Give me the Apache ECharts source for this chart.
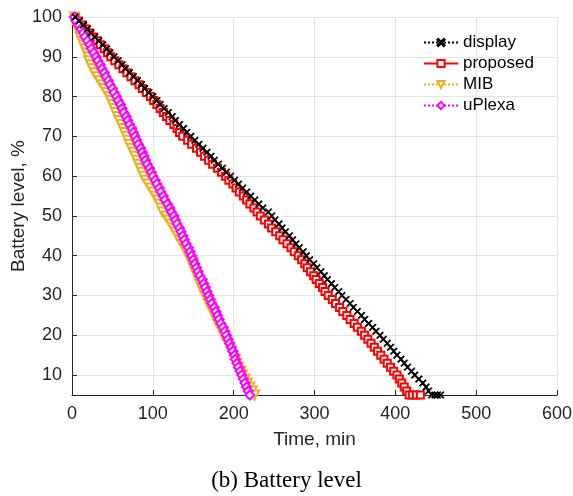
<!DOCTYPE html>
<html>
<head>
<meta charset="utf-8">
<script src="https://cdn.jsdelivr.net/npm/echarts@6/dist/echarts.min.js"></script>
<style>
html,body{margin:0;padding:0;background:#fff;}
#chart{width:573px;height:496px;}
</style>
</head>
<body>
<div id="chart"></div>
<script>
// Battery levels (%) shared by all series
var levels = [100,99,98,97,96,95,94,93,92,91,90,89,88,87,86,85,84,83,82,81,80,79,78,77,76,75,74,73,72,71,70,69,68,67,66,65,64,63,62,61,60,59,58,57,56,55,54,53,52,51,50,49,48,47,46,45,44,43,42,41,40,39,38,37,36,35,34,33,32,31,30,29,28,27,26,25,24,23,22,21,20,19,18,17,16,15,14,13,12,11,10,9,8,7,6,5];

// Time (min) at which each level is reached
var displayTime = [4,9,14,19,23,28,33,38,43,47,52, 57,62,66,71,76,81,86,90,95,100, 105,109,114,119,124,128,133,138,142,147, 152,157,162,167,172,176,181,186,191,196, 201,206,211,216,221,226,231,236,243,247, 251,256,260,264,269,273,277,281,286,290, 294,299,303,308,312,316,321,325,330,334, 339,344,348,353,358,362,367,372,376,381, 385,390,394,398,402,407,411,415,420,424, 429,434,438,441,445];
var displayTailTime = [449,452,456];
var displayTailLevel = [5,5,5];

var proposedTime = [4,8,13,17,22,26,31,35,40,44,48, 53,58,63,68,73,78,83,87,92,97, 101,105,109,113,117,121,126,130,133,137, 143,148,154,159,164,169,174,180,185,190, 194,199,203,207,212,216,220,225,229,233, 238,243,247,252,257,261,266,271,275,280, 284,288,291,295,299,302,306,310,313,317, 322,326,331,335,340,344,349,353,358,362, 366,370,374,378,382,386,390,394,398,402, 405,408,411,414,417];
var proposedTailTime = [421,426,431];
var proposedTailLevel = [5,5,5];

var mibTime = [3,4,6,7,9,10,12,14,16,18,20, 21,23,25,28,31,34,37,40,43,46, 48,50,52,54,56,58,61,63,65,67, 69,71,73,76,78,80,82,84,86,88, 91,94,97,100,103,106,108,110,112,116, 119,122,125,128,130,133,136,139,141,144, 146,148,150,152,154,156,158,160,162,164, 167,169,171,174,176,178,180,183,185,187, 190,192,195,197,199,202,204,206,209,211, 214,217,220,223,226];

var uplexaTime = [3,5,8,11,14,16,19,22,24,27,30, 32,35,37,40,42,45,47,50,52,55, 57,60,62,64,67,69,71,74,76,78, 80,82,85,87,89,91,93,96,98,100, 103,105,108,110,113,115,118,121,123,126, 128,130,133,135,137,139,141,144,146,148, 150,152,154,156,158,161,163,165,167,169, 171,173,176,178,180,182,184,187,189,191, 193,195,197,199,201,202,204,206,208,210, 212,214,216,218,220];

var seriesNames = ['display','proposed','MIB','uPlexa'];
var xTicks = [0,100,200,300,400,500,600];

function pairs(t, v, tt, tv) {
  var out = [];
  for (var i = 0; i < t.length; i++) out.push([t[i], v[i]]);
  if (tt) for (var j = 0; j < tt.length; j++) out.push([tt[j], tv[j]]);
  return out;
}

var crossPath = 'path://M1.2,0 L5,3.8 L8.8,0 L10,1.2 L6.2,5 L10,8.8 L8.8,10 L5,6.2 L1.2,10 L0,8.8 L3.8,5 L0,1.2 Z';
var txt = '#262626';
var font = '"Liberation Sans", Arial, Helvetica, sans-serif';

var chart = echarts.init(document.getElementById('chart'), null, {renderer: 'canvas'});
chart.setOption({
  animation: false,
  backgroundColor: '#fff',
  textStyle: {fontFamily: font},
  grid: {left: 72, right: 16, top: 17, bottom: 101, containLabel: false, outerBoundsMode: 'none'},
  title: {
    text: '(b) Battery level',
    left: 'center',
    top: 464,
    textStyle: {fontFamily: '"Liberation Serif", "Times New Roman", serif', fontSize: 23, fontWeight: 'normal', color: '#000'}
  },
  legend: {
    left: 418, top: 29,
    orient: 'vertical',
    itemWidth: 34, itemHeight: 9, itemGap: 4,
    textStyle: {fontSize: 17, color: '#000', fontFamily: font},
    data: seriesNames
  },
  xAxis: {
    type: 'value', min: xTicks[0], max: xTicks[xTicks.length-1], interval: 100,
    name: 'Time, min', nameLocation: 'middle', nameGap: 35, nameMoveOverlap: false,
    nameTextStyle: {fontSize: 19, color: txt, fontFamily: font},
    axisLine: {show: true, lineStyle: {color: txt, width: 1}},
    axisTick: {show: true, inside: true, length: 5, lineStyle: {color: txt}},
    axisLabel: {fontSize: 18, color: txt, margin: 10, fontFamily: font},
    splitLine: {show: true, lineStyle: {color: '#e4e4e4', width: 1}}
  },
  yAxis: {
    type: 'value', min: 5, max: 100, splitNumber: 10,
    name: 'Battery level, %', nameLocation: 'middle', nameGap: 44, nameMoveOverlap: false,
    nameTextStyle: {fontSize: 19, color: txt, fontFamily: font},
    axisLine: {show: true, lineStyle: {color: txt, width: 1}},
    axisTick: {show: true, inside: true, length: 5, lineStyle: {color: txt}},
    axisLabel: {fontSize: 18, color: txt, margin: 10, showMinLabel: false, fontFamily: font},
    splitLine: {show: true, lineStyle: {color: '#e4e4e4', width: 1}}
  },
  series: [
    {
      name: seriesNames[0], type: 'line', showAllSymbol: true,
      data: pairs(displayTime, levels, displayTailTime, displayTailLevel),
      symbol: crossPath, symbolSize: 7,
      lineStyle: {color: '#000', width: 1.5, type: 'dotted'},
      itemStyle: {color: '#000', borderColor: '#000', borderWidth: 0.8},
      z: 3
    },
    {
      name: seriesNames[1], type: 'line', showAllSymbol: true,
      data: pairs(proposedTime, levels, proposedTailTime, proposedTailLevel),
      symbol: 'emptyRect', symbolSize: 7,
      lineStyle: {color: '#ff0000', width: 1.5, type: 'solid'},
      itemStyle: {color: '#ff0000', borderColor: '#ff0000', borderWidth: 2.5},
      z: 2
    },
    {
      name: seriesNames[2], type: 'line', showAllSymbol: true,
      data: pairs(mibTime, levels),
      symbol: 'emptyTriangle', symbolRotate: 180, symbolSize: 9,
      lineStyle: {color: '#EDB120', width: 1.5, type: 'dotted'},
      itemStyle: {color: '#EDB120', borderColor: '#EDB120', borderWidth: 1.8},
      z: 2
    },
    {
      name: seriesNames[3], type: 'line', showAllSymbol: true,
      data: pairs(uplexaTime, levels),
      symbol: 'emptyDiamond', symbolSize: 9,
      lineStyle: {color: '#ff00ff', width: 1.5, type: 'dotted'},
      itemStyle: {color: '#ff00ff', borderColor: '#ff00ff', borderWidth: 2.2},
      z: 2
    }
  ]
});
</script>
</body>
</html>
